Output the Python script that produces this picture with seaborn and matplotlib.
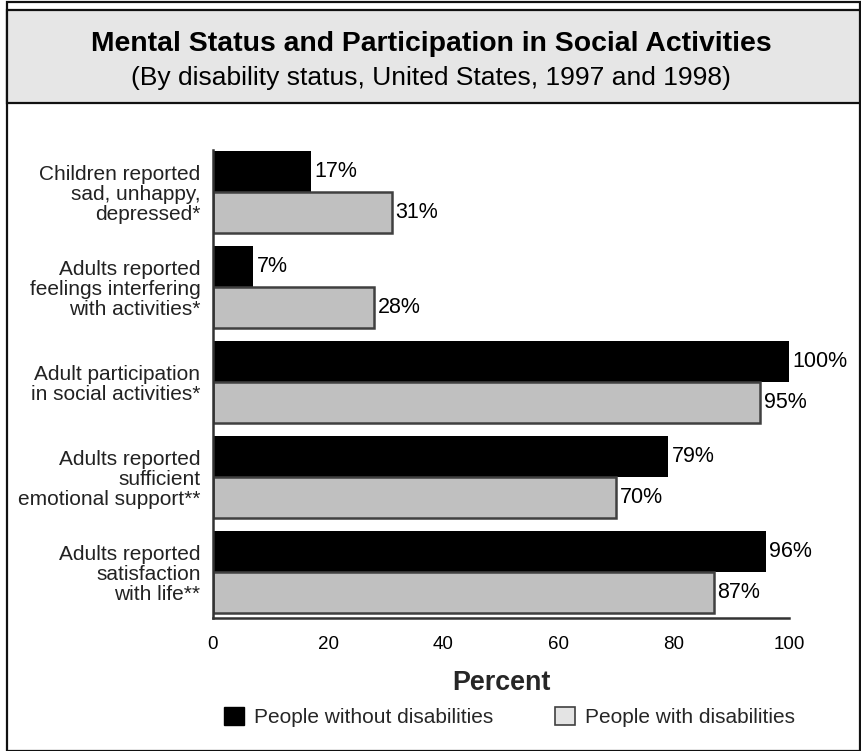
import matplotlib
matplotlib.use("Agg")
import matplotlib.pyplot as plt
import seaborn as sns
import pandas as pd
from matplotlib.patches import Rectangle, Patch

categories = [
    "Children reported\nsad, unhappy,\ndepressed*",
    "Adults reported\nfeelings interfering\nwith activities*",
    "Adult participation\nin social activities*",
    "Adults reported\nsufficient\nemotional support**",
    "Adults reported\nsatisfaction\nwith life**",
]
without_dis = [17, 7, 100, 79, 96]
with_dis = [31, 28, 95, 70, 87]
series_names = ["People without disabilities", "People with disabilities"]
xticks = [0, 20, 40, 60, 80, 100]

title = "Mental Status and Participation in Social Activities"
subtitle = "(By disability status, United States, 1997 and 1998)"
xlabel = "Percent"

sns.set_theme(style="white")
plt.rcParams['font.family'] = ['Liberation Sans', 'DejaVu Sans']

df = pd.DataFrame({
    "category": categories * 2,
    "value": without_dis + with_dis,
    "group": [series_names[0]] * len(categories) + [series_names[1]] * len(categories),
})

BLACK = "#000000"
GRAY = "#c0c0c0"
EDGE = "#404040"

fig = plt.figure(figsize=(8.62, 7.51), dpi=100)
fig.patch.set_facecolor("white")

# outer frame and title box
W, H = 862.0, 751.0
fig.patches.append(Rectangle((7 / W, 0), (860 - 7) / W, (H - 10) / H + 0.01,
                             transform=fig.transFigure, facecolor="none",
                             edgecolor="#111111", linewidth=1.6, zorder=0))
fig.patches.append(Rectangle((7 / W, (H - 103) / H), (860 - 7) / W, 93 / H,
                             transform=fig.transFigure, facecolor="#e6e6e6",
                             edgecolor="#111111", linewidth=1.6, zorder=0))
fig.text(0.5, 1 - 44 / H, title, ha="center", va="center", fontsize=20.4,
         fontweight="bold", color="black")
fig.text(0.5, 1 - 78 / H, subtitle, ha="center", va="center", fontsize=19,
         color="black")

ax = fig.add_axes([213 / W, 1 - 618 / H, (789 - 213) / W, (618 - 150) / H])
ax.set_facecolor("none")
sns.barplot(data=df, y="category", x="value", hue="group", orient="h",
            hue_order=series_names, palette=[BLACK, GRAY], width=0.86,
            saturation=1, ax=ax, legend=False, errorbar=None)

n = len(categories)
for i, p in enumerate(ax.patches[:2 * n]):
    if i >= n:
        p.set_edgecolor(EDGE)
        p.set_linewidth(1.8)
    else:
        p.set_edgecolor(BLACK)
        p.set_linewidth(0)

for cont in ax.containers:
    for bar in cont:
        w = bar.get_width()
        y = bar.get_y() + bar.get_height() / 2
        ax.annotate(f"{w:.0f}%", (w, y), xytext=(2.5, 0), textcoords="offset points",
                    ha="left", va="center", fontsize=15.5, color="black")

ax.set_xlim(0, 100)
ax.set_ylim(4.48, -0.44)
ax.set_xticks(xticks)
ax.set_xticklabels([str(t) for t in xticks], fontsize=13.5)
ax.tick_params(axis="x", direction="out", length=6, width=1.8, color="#333333",
               pad=7, labelcolor="black")
ax.tick_params(axis="y", length=0, pad=9, labelsize=15, labelcolor="#222222")
for lab in ax.get_yticklabels():
    lab.set_multialignment("right")
    lab.set_linespacing(1.07)
ax.set_ylabel("")
ax.set_xlabel(xlabel, fontsize=19.4, fontweight="bold", labelpad=12)
for s in ["top", "right"]:
    ax.spines[s].set_visible(False)
for s in ["left", "bottom"]:
    ax.spines[s].set_color("#333333")
    ax.spines[s].set_linewidth(1.8)

handles = [Patch(facecolor=BLACK, edgecolor=BLACK),
           Patch(facecolor="#e4e4e4", edgecolor=EDGE, linewidth=1.2)]
fig.legend(handles, series_names, loc="center", bbox_to_anchor=(509.5 / W, 1 - 717 / H),
           ncol=2, frameon=False, fontsize=15, handlelength=0.92, handleheight=0.92,
           handletextpad=0.48, columnspacing=3.0)

fig.savefig("out.png", dpi=100)
